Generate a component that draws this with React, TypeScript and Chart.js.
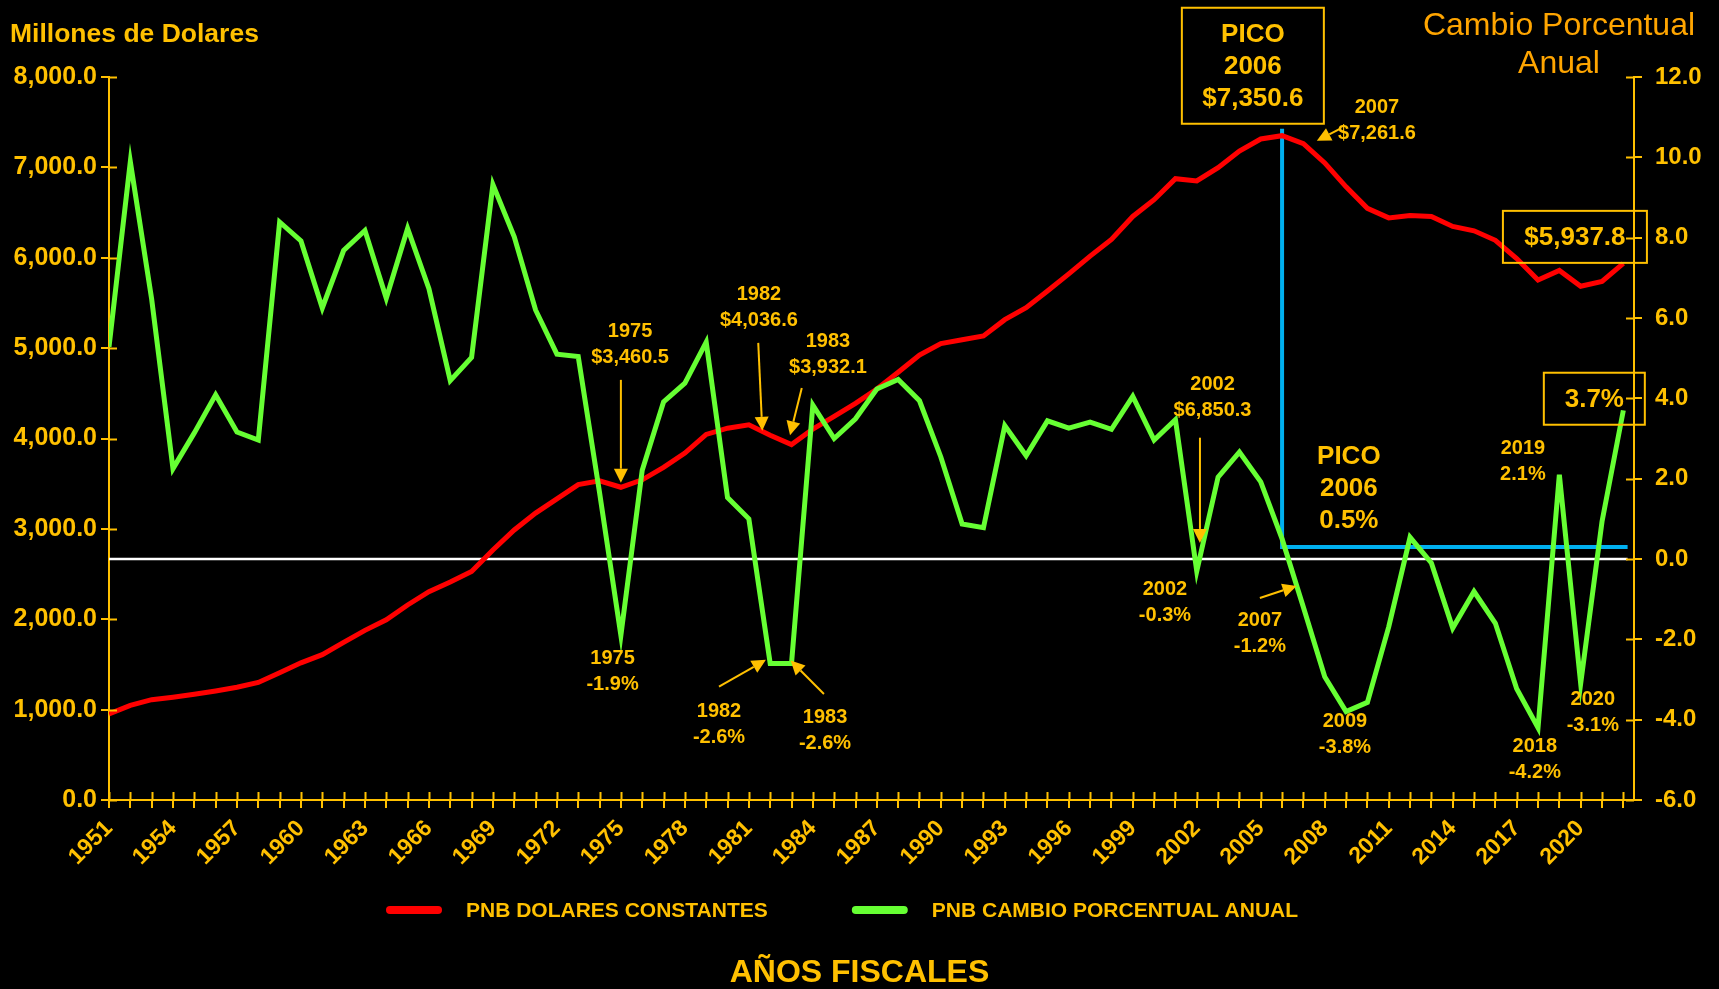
import { useEffect, useRef } from 'react';
import { Chart, registerables } from 'chart.js';

Chart.register(...registerables);

const FONT = "'Liberation Sans', Arial, sans-serif";
const AXIS = '#FFC000';
const ORANGE = '#FFA500';
const RED = '#FF0000';
const GREEN = '#66FF33';
const BLUE = '#00B0F0';

const years = [
  1951, 1952, 1953, 1954, 1955, 1956, 1957, 1958, 1959, 1960,
  1961, 1962, 1963, 1964, 1965, 1966, 1967, 1968, 1969, 1970,
  1971, 1972, 1973, 1974, 1975, 1976, 1977, 1978, 1979, 1980,
  1981, 1982, 1983, 1984, 1985, 1986, 1987, 1988, 1989, 1990,
  1991, 1992, 1993, 1994, 1995, 1996, 1997, 1998, 1999, 2000,
  2001, 2002, 2003, 2004, 2005, 2006, 2007, 2008, 2009, 2010,
  2011, 2012, 2013, 2014, 2015, 2016, 2017, 2018, 2019, 2020,
  2021, 2022,
];

// PNB en dolares constantes (millones)
const gnpConstant = [
  952, 1047, 1110, 1137, 1169, 1206, 1248, 1301, 1407, 1518,
  1608, 1745, 1877, 1994, 2158, 2306, 2411, 2528, 2766, 2988,
  3175, 3332, 3490, 3532, 3460.5, 3543, 3681, 3839, 4045, 4114,
  4151, 4036.6, 3932.1, 4104, 4246, 4389, 4548, 4733, 4923, 5050,
  5093, 5135, 5315, 5447, 5632, 5822, 6018, 6203, 6457, 6642,
  6875, 6850.3, 6996, 7181, 7314, 7350.6, 7261.6, 7049, 6785, 6547,
  6441, 6467, 6457, 6346, 6298, 6193, 5991, 5754, 5859, 5685,
  5738, 5937.8,
];

// PNB cambio porcentual anual
const gnpChange = [
  5.28, 9.89, 6.47, 2.25, 3.14, 4.09, 3.16, 2.96, 8.39, 7.92,
  6.25, 7.68, 8.18, 6.49, 8.23, 6.73, 4.44, 5.02, 9.32, 8.02,
  6.2, 5.1, 5.04, 1.65, -1.9, 2.21, 3.91, 4.38, 5.4, 1.53,
  1.0, -2.6, -2.6, 3.83, 3.0, 3.49, 4.23, 4.47, 3.94, 2.54,
  0.87, 0.78, 3.32, 2.57, 3.44, 3.26, 3.41, 3.23, 4.05, 2.96,
  3.47, -0.3, 2.04, 2.66, 1.92, 0.5, -1.2, -2.93, -3.8, -3.57,
  -1.69, 0.54, -0.1, -1.72, -0.81, -1.6, -3.23, -4.2, 2.1, -3.1,
  0.93, 3.7,
];

const xTickLabels = [
  '1951', '1954', '1957', '1960', '1963', '1966', '1969', '1972', '1975',
  '1978', '1981', '1984', '1987', '1990', '1993', '1996', '1999', '2002',
  '2005', '2008', '2011', '2014', '2017', '2020',
];

// reference lines (right axis values)
const zeroLineX = [1951, 2022.2];
const zeroLineY = [0, 0];
const peakLineX = [2006, 2006, 2022.2];
const peakLineY = [10.71, 0.3, 0.3];

// annotation layout (positions in data space: year, right-axis value)
type Note = { lines: string[]; x: number; y: number; size: number; gap: number; box?: { w: number; h: number } };
const notes: Note[] = [
  { lines: ['1975', '$3,460.5'], x: 1975.43, y: 5.37, size: 20, gap: 26 },
  { lines: ['1982', '$4,036.6'], x: 1981.47, y: 6.28, size: 20, gap: 26 },
  { lines: ['1983', '$3,932.1'], x: 1984.71, y: 5.11, size: 20, gap: 26 },
  { lines: ['2002', '$6,850.3'], x: 2002.74, y: 4.04, size: 20, gap: 26 },
  { lines: ['PICO', '2006', '$7,350.6'], x: 2004.63, y: 12.28, size: 26, gap: 32, box: { w: 142, h: 116 } },
  { lines: ['2007', '$7,261.6'], x: 2010.45, y: 10.95, size: 20, gap: 26 },
  { lines: ['$5,937.8'], x: 2019.73, y: 8.02, size: 26, gap: 32, box: { w: 144, h: 52 } },
  { lines: ['3.7%'], x: 2020.64, y: 3.99, size: 26, gap: 32, box: { w: 101, h: 52 } },
  { lines: ['1975', '-1.9%'], x: 1974.61, y: -2.78, size: 20, gap: 26 },
  { lines: ['1982', '-2.6%'], x: 1979.6, y: -4.09, size: 20, gap: 26 },
  { lines: ['1983', '-2.6%'], x: 1984.57, y: -4.25, size: 20, gap: 26 },
  { lines: ['2002', '-0.3%'], x: 2000.51, y: -1.07, size: 20, gap: 26 },
  { lines: ['2007', '-1.2%'], x: 2004.96, y: -1.84, size: 20, gap: 26 },
  { lines: ['PICO', '2006', '0.5%'], x: 2009.13, y: 1.77, size: 26, gap: 32 },
  { lines: ['2009', '-3.8%'], x: 2008.95, y: -4.35, size: 20, gap: 26 },
  { lines: ['2019', '2.1%'], x: 2017.29, y: 2.45, size: 20, gap: 26 },
  { lines: ['2018', '-4.2%'], x: 2017.85, y: -4.97, size: 20, gap: 26 },
  { lines: ['2020', '-3.1%'], x: 2020.57, y: -3.8, size: 20, gap: 26 },
];

type Arrow = { x1: number; y1: number; x2: number; y2: number };
const arrows: Arrow[] = [
  { x1: 1975.0, y1: 4.46, x2: 1975.0, y2: 1.9 },
  { x1: 1981.44, y1: 5.38, x2: 1981.63, y2: 3.19 },
  { x1: 1983.48, y1: 4.26, x2: 1982.93, y2: 3.08 },
  { x1: 2002.15, y1: 3.02, x2: 2002.15, y2: 0.4 },
  { x1: 2008.71, y1: 10.71, x2: 2007.63, y2: 10.41 },
  { x1: 1979.6, y1: -3.18, x2: 1981.8, y2: -2.51 },
  { x1: 1984.52, y1: -3.36, x2: 1982.96, y2: -2.53 },
  { x1: 2004.96, y1: -0.97, x2: 2006.68, y2: -0.67 },
];

// legend layout (pixels)
const LEGEND_START_X = 386;
const LEGEND_OFFSET_Y = 110; // below chart area bottom
const LEGEND_MARK_W = 56;
const LEGEND_MARK_GAP = 24;
const LEGEND_ITEM_GAP = 84;

const fmtThousands = (v: number) =>
  v.toLocaleString('en-US', { minimumFractionDigits: 1, maximumFractionDigits: 1 });

const overlay = {
  id: 'overlay',
  afterDatasetsDraw(chart: any) {
    const { ctx, chartArea, scales } = chart;
    const sx = scales.x;
    const sy = scales.y;
    const sy1 = scales.y1;
    ctx.save();

    // inner half of the crossing tick marks
    ctx.strokeStyle = AXIS;
    ctx.lineWidth = 2;
    ctx.beginPath();
    sy.ticks.forEach((t: any) => {
      const p = Math.round(sy.getPixelForValue(t.value)) + 0.5;
      ctx.moveTo(chartArea.left, p);
      ctx.lineTo(chartArea.left + 8, p);
    });
    sy1.ticks.forEach((t: any) => {
      const p = Math.round(sy1.getPixelForValue(t.value)) + 0.5;
      ctx.moveTo(chartArea.right - 8, p);
      ctx.lineTo(chartArea.right, p);
    });
    sx.ticks.forEach((t: any) => {
      const p = Math.round(sx.getPixelForValue(t.value)) + 0.5;
      ctx.moveTo(p, chartArea.bottom - 8);
      ctx.lineTo(p, chartArea.bottom);
    });
    ctx.stroke();

    // axis titles
    ctx.fillStyle = AXIS;
    ctx.textBaseline = 'middle';
    ctx.textAlign = 'left';
    ctx.font = `bold 26.5px ${FONT}`;
    ctx.fillText('Millones de Dolares', chartArea.left - 99, chartArea.top - 42);

    ctx.fillStyle = ORANGE;
    ctx.textAlign = 'center';
    ctx.font = `32px ${FONT}`;
    ctx.fillText('Cambio Porcentual', chartArea.right - 75, chartArea.top - 51);
    ctx.fillText('Anual', chartArea.right - 75, chartArea.top - 13);

    // notes
    ctx.fillStyle = AXIS;
    ctx.strokeStyle = AXIS;
    notes.forEach((n) => {
      const cx = sx.getPixelForValue(n.x);
      const cy = sy1.getPixelForValue(n.y);
      ctx.font = `bold ${n.size}px ${FONT}`;
      const total = (n.lines.length - 1) * n.gap;
      n.lines.forEach((ln, i) => ctx.fillText(ln, cx, cy - total / 2 + i * n.gap + 1));
      if (n.box) {
        ctx.lineWidth = 2;
        ctx.strokeRect(cx - n.box.w / 2, cy - n.box.h / 2, n.box.w, n.box.h);
      }
    });

    // arrows
    arrows.forEach((a) => {
      const x1 = sx.getPixelForValue(a.x1);
      const y1 = sy1.getPixelForValue(a.y1);
      const x2 = sx.getPixelForValue(a.x2);
      const y2 = sy1.getPixelForValue(a.y2);
      const ang = Math.atan2(y2 - y1, x2 - x1);
      const L = 14;
      const W = 7;
      const bx = x2 - L * Math.cos(ang);
      const by = y2 - L * Math.sin(ang);
      ctx.lineWidth = 2;
      ctx.beginPath();
      ctx.moveTo(x1, y1);
      ctx.lineTo(bx, by);
      ctx.stroke();
      ctx.beginPath();
      ctx.moveTo(x2, y2);
      ctx.lineTo(bx + W * Math.sin(ang), by - W * Math.cos(ang));
      ctx.lineTo(bx - W * Math.sin(ang), by + W * Math.cos(ang));
      ctx.closePath();
      ctx.fill();
    });

    // legend (first two datasets)
    const ly = chartArea.bottom + LEGEND_OFFSET_Y;
    let lx = LEGEND_START_X;
    ctx.font = `bold 21px ${FONT}`;
    ctx.textAlign = 'left';
    chart.data.datasets.slice(0, 2).forEach((ds: any) => {
      ctx.strokeStyle = ds.borderColor;
      ctx.lineWidth = 8;
      ctx.lineCap = 'round';
      ctx.beginPath();
      ctx.moveTo(lx + 4, ly);
      ctx.lineTo(lx + LEGEND_MARK_W - 4, ly);
      ctx.stroke();
      const tx = lx + LEGEND_MARK_W + LEGEND_MARK_GAP;
      ctx.fillStyle = AXIS;
      ctx.fillText(ds.label, tx, ly + 1);
      lx = tx + ctx.measureText(ds.label).width + LEGEND_ITEM_GAP;
    });

    ctx.restore();
  },
};

export default function App() {
  const ref = useRef<HTMLCanvasElement>(null);

  useEffect(() => {
    document.body.style.margin = '0';
    document.body.style.background = '#000';
    Chart.defaults.font.family = FONT;
    const canvas = ref.current;
    if (!canvas) return;

    const chart = new Chart(canvas, {
      type: 'line',
      data: {
        datasets: [
          {
            label: 'PNB DOLARES CONSTANTES',
            data: years.map((yr, i) => ({ x: yr, y: gnpConstant[i] })),
            yAxisID: 'y',
            borderColor: RED,
            backgroundColor: RED,
            borderWidth: 5,
            pointRadius: 0,
            tension: 0,
            order: 2,
          },
          {
            label: 'PNB CAMBIO PORCENTUAL ANUAL',
            data: years.map((yr, i) => ({ x: yr, y: gnpChange[i] })),
            yAxisID: 'y1',
            borderColor: GREEN,
            backgroundColor: GREEN,
            borderWidth: 5,
            pointRadius: 0,
            tension: 0,
            order: 1,
          },
          {
            label: 'pico',
            data: peakLineX.map((xv, i) => ({ x: xv, y: peakLineY[i] })),
            yAxisID: 'y1',
            borderColor: BLUE,
            backgroundColor: BLUE,
            borderWidth: 4,
            pointRadius: 0,
            order: 3,
          },
          {
            label: 'cero',
            data: zeroLineX.map((xv, i) => ({ x: xv, y: zeroLineY[i] })),
            yAxisID: 'y1',
            borderColor: '#FFFFFF',
            backgroundColor: '#FFFFFF',
            borderWidth: 2.5,
            pointRadius: 0,
            order: 4,
          },
        ],
      },
      options: {
        responsive: false,
        animation: false,
        events: [],
        layout: { padding: { top: 77, left: 0, right: 0, bottom: 0 } },
        scales: {
          x: {
            type: 'linear',
            min: 1951,
            max: 2022.5,
            offset: false,
            border: { display: true, color: AXIS, width: 2 },
            grid: { display: true, drawOnChartArea: false, drawTicks: true, tickLength: 8, color: AXIS, lineWidth: 2 },
            ticks: {
              stepSize: 1,
              autoSkip: false,
              includeBounds: false,
              maxRotation: 45,
              minRotation: 45,
              padding: 7,
              color: AXIS,
              font: { size: 23, weight: 'bold' },
              callback: (v: any) => {
                const s = String(Math.round(Number(v)));
                return xTickLabels.includes(s) ? s : '';
              },
            },
            afterFit: (s: any) => {
              s.height = 75;
            },
          },
          y: {
            type: 'linear',
            position: 'left',
            min: 0,
            max: 8000,
            border: { display: true, color: AXIS, width: 2 },
            grid: { display: true, drawOnChartArea: false, drawTicks: true, tickLength: 8, color: AXIS, lineWidth: 2 },
            ticks: {
              stepSize: 1000,
              padding: 4,
              color: AXIS,
              font: { size: 25, weight: 'bold' },
              callback: (v: any) => fmtThousands(Number(v)),
            },
            afterFit: (s: any) => {
              s.width = 109;
            },
          },
          y1: {
            type: 'linear',
            position: 'right',
            min: -6,
            max: 12,
            border: { display: true, color: AXIS, width: 2 },
            grid: { display: true, drawOnChartArea: false, drawTicks: true, tickLength: 8, color: AXIS, lineWidth: 2 },
            ticks: {
              stepSize: 2,
              padding: 13,
              color: AXIS,
              font: { size: 24, weight: 'bold' },
              callback: (v: any) => Number(v).toFixed(1),
            },
            afterFit: (s: any) => {
              s.width = 85;
            },
          },
        },
        plugins: {
          tooltip: { enabled: false },
          legend: { display: false },
          title: {
            display: true,
            position: 'bottom',
            text: 'AÑOS FISCALES',
            color: AXIS,
            font: { size: 32, weight: 'bold', lineHeight: 1.0 },
            padding: { top: 82, bottom: 0 },
          },
        },
      } as any,
      plugins: [overlay],
    });

    return () => chart.destroy();
  }, []);

  return (
    <div style={{ width: 1719, height: 989, background: '#000' }}>
      <canvas ref={ref} width={1719} height={989} style={{ display: 'block' }} />
    </div>
  );
}
